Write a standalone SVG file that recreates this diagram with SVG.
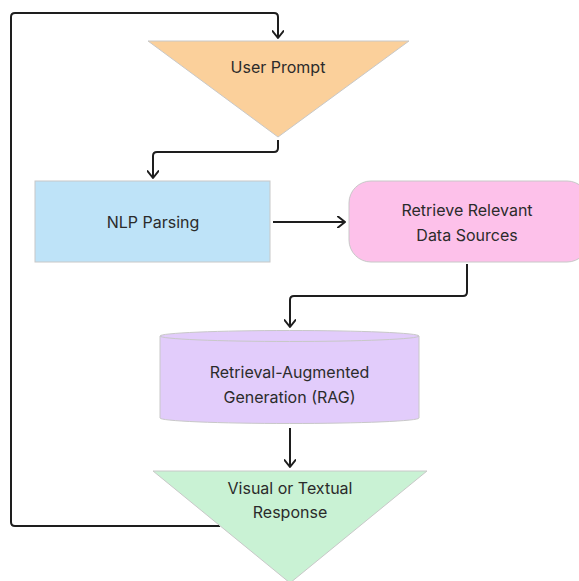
<svg xmlns="http://www.w3.org/2000/svg" width="579" height="581" viewBox="0 0 579 581">
<defs>
<marker id="arr" markerWidth="12" markerHeight="12" refX="10" refY="6" orient="auto" markerUnits="userSpaceOnUse">
<polyline points="3,0.5 10,6 3,11.5" fill="none" stroke="#1e1e1e" stroke-width="2" stroke-linecap="round" stroke-linejoin="round"/>
</marker>
</defs>
<style>
text{font-family:Inter,"Noto Sans","Liberation Sans",sans-serif;font-size:16px;fill:#2b2b2b;text-anchor:middle;dominant-baseline:central}
.c{fill:none;stroke:#1e1e1e;stroke-width:2;stroke-linejoin:round}
.s{stroke:#c8c8c8;stroke-width:1}
</style>
<rect width="579" height="581" fill="#fff"/>
<g id="connectors">
<path class="c" d="M278,140 V148 Q278,152 274,152 H157 Q153,152 153,156 V178" marker-end="url(#arr)"/>
<path class="c" d="M273,222 H345" marker-end="url(#arr)"/>
<path class="c" d="M467,264 V292 Q467,296 463,296 H294 Q290,296 290,300 V327" marker-end="url(#arr)"/>
<path class="c" d="M290,428 V467" marker-end="url(#arr)"/>
<path class="c" d="M220,526 H15 Q11,526 11,522 V17 Q11,13 15,13 H274 Q278,13 278,17 V38" marker-end="url(#arr)"/>
</g>
<g id="user-prompt">
<polygon points="148,41 409,41 278,137" fill="#fbd09b" class="s"/>
<text x="278" y="67">User Prompt</text>
</g>
<g id="nlp-parsing">
<rect x="35" y="181" width="235" height="81" fill="#bee3f8" class="s"/>
<text x="153" y="222">NLP Parsing</text>
</g>
<g id="retrieve">
<rect x="349" y="181" width="240" height="81" rx="22" fill="#fdc1ea" class="s"/>
<text x="467" y="210">Retrieve Relevant</text>
<text x="467" y="235">Data Sources</text>
</g>
<g id="rag">
<path d="M160,336 V418 A129.5,5.5 0 0 0 419,418 V336 Z" fill="#e2ccfb" class="s"/>
<ellipse cx="289.5" cy="336" rx="129.5" ry="5.5" fill="#e2ccfb" class="s"/>
<text x="289.5" y="372">Retrieval-Augmented</text>
<text x="289.5" y="397">Generation (RAG)</text>
</g>
<g id="response">
<polygon points="153,471 427,471 290,583" fill="#c9f2d4" class="s"/>
<text x="290" y="488">Visual or Textual</text>
<text x="290" y="512">Response</text>
</g>
</svg>
